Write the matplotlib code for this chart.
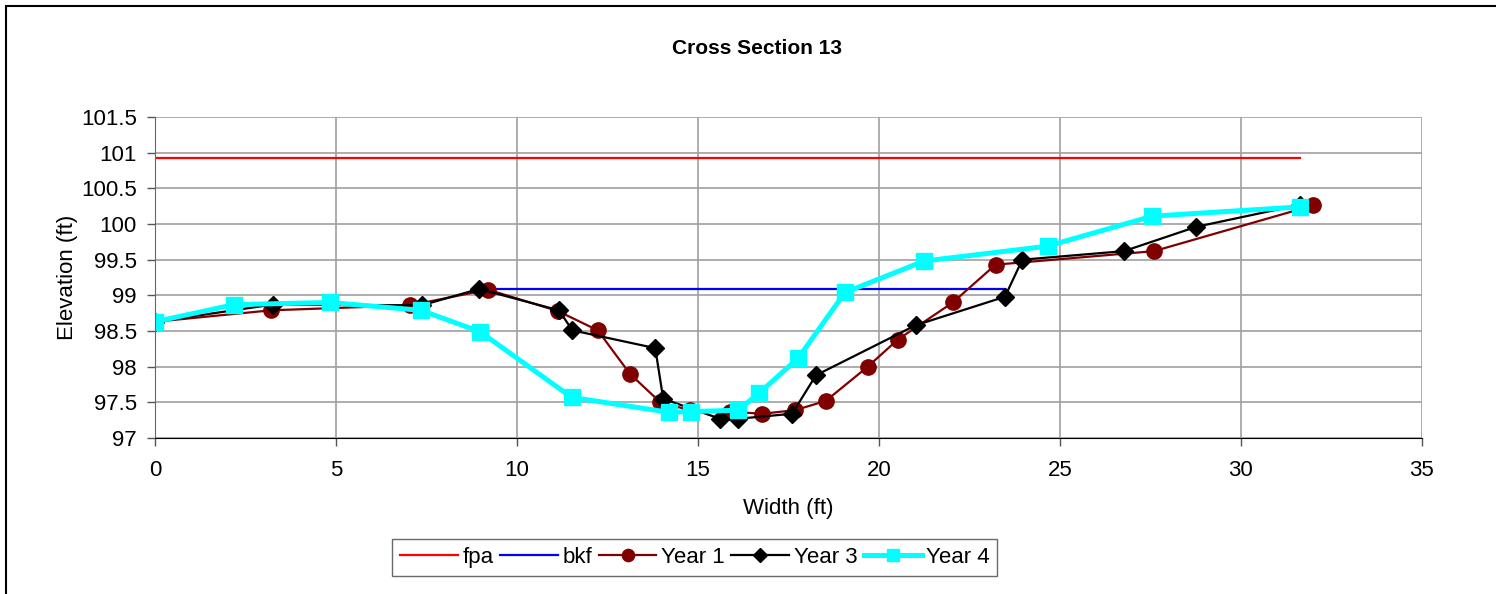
import matplotlib.pyplot as plt
from matplotlib.patches import Rectangle
from matplotlib.ticker import FuncFormatter, MultipleLocator

plt.rcParams['font.family'] = ['Liberation Sans', 'DejaVu Sans']

# floodprone and bankfull elevations
fpa_x = [0.0, 31.63]
fpa_y = [100.92, 100.92]
bkf_x = [9.2, 23.48]
bkf_y = [99.09, 99.09]

# surveyed cross section points, station (ft) vs elevation (ft)
year1_x = [0.0, 3.2, 7.05, 9.2, 11.13, 12.23, 13.12, 13.96, 14.78, 15.88,
           16.77, 17.68, 18.53, 19.69, 20.52, 22.04, 23.22, 27.6, 31.99]
year1_y = [98.63, 98.79, 98.86, 99.08, 98.78, 98.51, 97.90, 97.50, 97.39, 97.37,
           97.34, 97.39, 97.52, 98.0, 98.38, 98.90, 99.43, 99.62, 100.26]

year3_x = [0.0, 3.25, 7.37, 8.95, 11.16, 11.53, 13.82, 14.04, 15.61, 16.11,
           17.6, 18.26, 21.01, 23.48, 23.96, 26.77, 28.76, 31.63]
year3_y = [98.63, 98.87, 98.86, 99.09, 98.79, 98.51, 98.26, 97.55, 97.27, 97.27,
           97.34, 97.88, 98.58, 98.98, 99.50, 99.62, 99.96, 100.27]

year4_x = [0.0, 2.19, 4.83, 7.35, 8.98, 11.51, 14.2, 14.8, 16.11, 16.69,
           17.77, 19.06, 21.24, 24.66, 27.55, 31.63]
year4_y = [98.63, 98.87, 98.90, 98.79, 98.49, 97.57, 97.36, 97.37, 97.39, 97.63,
           98.12, 99.04, 99.48, 99.69, 100.11, 100.24]

fig = plt.figure(figsize=(14.96, 5.94), dpi=100)
ax = fig.add_axes([0.1036, 0.2626, 0.8469, 0.5404])

ax.plot(fpa_x, fpa_y, color='#ff0000', lw=1.6, label='fpa')
ax.plot(bkf_x, bkf_y, color='#0000ff', lw=1.6, label='bkf')
ax.plot(year1_x, year1_y, color='#800000', lw=1.6, marker='o', ms=11,
        label='Year 1')
ax.plot(year3_x, year3_y, color='black', lw=1.6, marker='D', ms=9,
        label='Year 3')
ax.plot(year4_x, year4_y, color='#00ffff', lw=3.6, marker='s', ms=11,
        label='Year 4')

ax.set_xlim(0, 35)
ax.set_ylim(97, 101.5)
ax.xaxis.set_major_locator(MultipleLocator(5))
ax.yaxis.set_major_locator(MultipleLocator(0.5))
ax.yaxis.set_major_formatter(FuncFormatter(lambda v, p: f'{v:g}'))
ax.grid(True, color='#a0a0a0', lw=1.2)
ax.set_axisbelow(True)
ax.tick_params(labelsize=16, length=6, width=1, color='#555555')
ax.tick_params(axis='x', pad=10)
ax.tick_params(axis='y', pad=7)

for side in ['top', 'right']:
    ax.spines[side].set_visible(False)
ax.spines['left'].set_color('#666666')
ax.spines['bottom'].set_color('black')

ax.set_xlabel('Width (ft)', fontsize=16, labelpad=12)
ax.set_ylabel('Elevation (ft)', fontsize=16, labelpad=2)
fig.text(0.506, 0.919, 'Cross Section 13', ha='center', va='center',
         fontsize=15, fontweight='bold')

leg = ax.legend(loc='center', bbox_to_anchor=(0.4645, 0.0615),
                bbox_transform=fig.transFigure, ncol=5, fontsize=16,
                frameon=True, fancybox=False, edgecolor='#444444',
                handlelength=2.6, handletextpad=0.2, columnspacing=0.3,
                borderpad=0.35, markerscale=0.8)
leg.get_frame().set_linewidth(1.0)

# outer chart frame
fig.patches.append(Rectangle((0.0043, -0.02), 1.05, 1.0099, fill=False,
                             edgecolor='black', lw=1.5,
                             transform=fig.transFigure, figure=fig))

fig.savefig('out.png', dpi=100)
